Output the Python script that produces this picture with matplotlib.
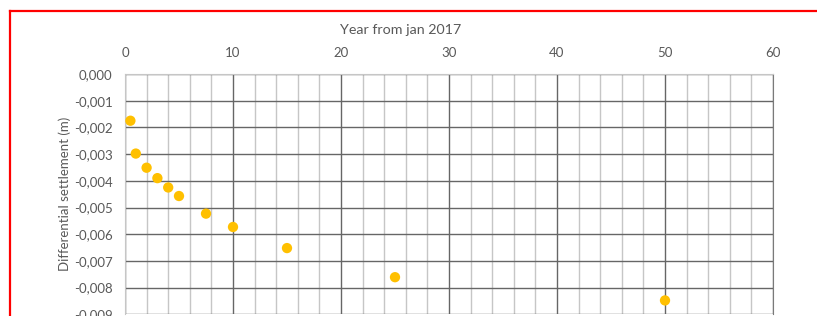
import matplotlib.pyplot as plt
from matplotlib.lines import Line2D
from matplotlib.ticker import MultipleLocator, FuncFormatter

# years from jan 2017 and differential settlement (m)
years = [0.5, 1, 2, 3, 4, 5, 7.5, 10, 15, 25, 50]
settlement = [-0.00175, -0.00298, -0.00351, -0.0039, -0.00425, -0.00457,
              -0.00523, -0.00573, -0.00652, -0.00761, -0.00848]

plt.rcParams['font.family'] = ['Lato', 'DejaVu Sans']
text_c = '#595959'

fig = plt.figure(figsize=(8.17, 3.16), dpi=100)
ax = fig.add_axes([125/817, 1 - 314.3/316, 648/817, (314.3 - 74)/316])

ax.scatter(years, settlement, s=55, c='#FFC000', edgecolors='none', zorder=3)

ax.set_xlim(0, 60)
ax.set_ylim(-0.009, 0)
ax.xaxis.set_major_locator(MultipleLocator(10))
ax.xaxis.set_minor_locator(MultipleLocator(2))
ax.yaxis.set_major_locator(MultipleLocator(0.001))
ax.xaxis.tick_top()
ax.yaxis.set_major_formatter(FuncFormatter(lambda v, p: ('%.3f' % v).replace('.', ',').replace('-0,000', '0,000')))
ax.tick_params(axis='both', which='both', length=0, labelsize=9.5, labelcolor=text_c)
ax.tick_params(axis='x', pad=11)
ax.tick_params(axis='y', pad=9)

ax.grid(which='minor', axis='x', color='#c6c6c6', lw=1)
ax.grid(which='major', axis='x', color='#666666', lw=1)
ax.grid(which='major', axis='y', color='#666666', lw=1)
ax.set_axisbelow(True)
for s in ['top', 'left']:
    ax.spines[s].set_color('#c6c6c6')
ax.spines['right'].set_color('#7a7a7a')
ax.spines['bottom'].set_visible(False)

fig.text(401/817, 1 - 30/316, 'Year from jan 2017', ha='center', va='center',
         fontsize=10.3, color=text_c)
fig.text(65/817, 1 - 194/316, 'Differential settlement (m)', ha='center', va='center',
         rotation=90, fontsize=9.5, color=text_c)

# red frame around the screenshot
fig.add_artist(Line2D([9.5/817, 1], [1 - 10.5/316, 1 - 10.5/316], transform=fig.transFigure,
                      color='red', lw=1.6))
fig.add_artist(Line2D([9.5/817, 9.5/817], [0, 1 - 10.5/316], transform=fig.transFigure,
                      color='red', lw=1.6))

fig.savefig('out.png', dpi=100)
